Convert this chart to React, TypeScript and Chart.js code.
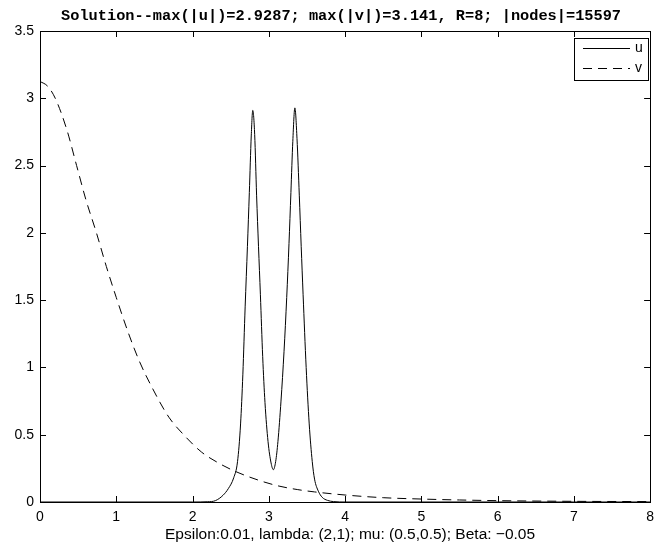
import React, { useEffect, useRef } from "react";
import { Chart, registerables } from "chart.js";

Chart.register(...registerables);

const titleText = "Solution--max(|u|)=2.9287; max(|v|)=3.141, R=8; |nodes|=15597";
const xLabelText = "Epsilon:0.01, lambda: (2,1); mu: (0.5,0.5); Beta: \u22120.05";
const seriesLabels = ["u", "v"];
const xTickValues = [0, 1, 2, 3, 4, 5, 6, 7, 8];
const yTickValues = [0, 0.5, 1, 1.5, 2, 2.5, 3, 3.5];

const uX = [0, 1, 2, 2.2, 2.3, 2.4, 2.47, 2.54, 2.59, 2.63, 2.66, 2.69, 2.72, 2.745, 2.77, 2.79, 2.815, 2.84, 2.865, 2.89, 2.92, 2.95, 2.99, 3.03, 3.06, 3.09, 3.12, 3.16, 3.2, 3.235, 3.265, 3.29, 3.315, 3.342, 3.37, 3.4, 3.425, 3.45, 3.49, 3.53, 3.57, 3.6, 3.65, 3.7, 3.77, 3.85, 4, 5, 6, 7, 8];
const uY = [0, 0, 0, 0.002, 0.01, 0.05, 0.1, 0.18, 0.3, 0.58, 0.95, 1.45, 1.9, 2.3, 2.72, 2.91, 2.73, 2.28, 1.9, 1.54, 1.08, 0.74, 0.45, 0.29, 0.24, 0.3, 0.45, 0.75, 1.12, 1.52, 1.92, 2.3, 2.68, 2.9287, 2.7, 2.28, 1.9, 1.54, 1.0, 0.58, 0.3, 0.17, 0.08, 0.035, 0.012, 0.003, 0, 0, 0, 0, 0];

const vX = [0, 0.1, 0.2, 0.35, 0.48, 0.6, 0.74, 0.87, 1.0, 1.15, 1.3, 1.47, 1.69, 1.9, 2.12, 2.34, 2.55, 2.86, 3.12, 3.38, 3.6, 4.0, 4.5, 5, 5.5, 6, 7, 8];
const vY = [3.125, 3.09, 3.0, 2.77, 2.5, 2.25, 2.0, 1.75, 1.52, 1.27, 1.05, 0.85, 0.63, 0.49, 0.37, 0.29, 0.23, 0.163, 0.12, 0.092, 0.075, 0.052, 0.032, 0.022, 0.015, 0.01, 0.005, 0.003];

const SANS = '"Liberation Sans", Arial, Helvetica, sans-serif';
const MONO = '"Liberation Mono", "Courier New", monospace';
const DASH = [9, 6];

const decorPlugin = {
  id: "decor",
  afterDraw(chart: any) {
    const { ctx, chartArea } = chart;
    const { left, right, top, bottom } = chartArea;
    const xs = chart.scales.x;
    const ys = chart.scales.y;
    ctx.save();
    ctx.strokeStyle = "#000";
    ctx.lineWidth = 1;
    ctx.setLineDash([]);
    ctx.strokeRect(Math.round(left) + 0.5, Math.round(top) + 0.5, Math.round(right - left), Math.round(bottom - top));
    const tl = 6;
    ctx.beginPath();
    xTickValues.forEach((v) => {
      const px = Math.round(xs.getPixelForValue(v)) + 0.5;
      ctx.moveTo(px, bottom);
      ctx.lineTo(px, bottom - tl);
      ctx.moveTo(px, top);
      ctx.lineTo(px, top + tl);
    });
    yTickValues.forEach((v) => {
      const py = Math.round(ys.getPixelForValue(v)) + 0.5;
      ctx.moveTo(left, py);
      ctx.lineTo(left + tl, py);
      ctx.moveTo(right, py);
      ctx.lineTo(right - tl, py);
    });
    ctx.stroke();

    const cx = (left + right) / 2;
    ctx.fillStyle = "#000";
    ctx.font = `bold 15.3px ${MONO}`;
    ctx.textAlign = "center";
    ctx.textBaseline = "alphabetic";
    ctx.fillText(titleText, cx - 4, 20);

    ctx.font = `15.5px ${SANS}`;
    ctx.fillText(xLabelText, cx + 5, 539);

    const lx = 574, ly = 38, lw = 74, lh = 42;
    ctx.fillStyle = "#fff";
    ctx.fillRect(lx, ly, lw, lh);
    ctx.strokeRect(lx + 0.5, ly + 0.5, lw, lh);
    const rows = [48.5, 68.5];
    chart.data.datasets.forEach((ds: any, i: number) => {
      ctx.beginPath();
      ctx.setLineDash(ds.borderDash || []);
      ctx.moveTo(583, rows[i]);
      ctx.lineTo(630, rows[i]);
      ctx.stroke();
      ctx.setLineDash([]);
      ctx.fillStyle = "#000";
      ctx.font = `14px ${SANS}`;
      ctx.textAlign = "left";
      ctx.textBaseline = "middle";
      ctx.fillText(ds.label, 635, rows[i]);
    });
    ctx.restore();
  },
};

export default function App() {
  const ref = useRef<HTMLCanvasElement | null>(null);
  useEffect(() => {
    if (!ref.current) return;
    const uData = uX.map((x, i) => ({ x, y: uY[i] }));
    const vData = vX.map((x, i) => ({ x, y: vY[i] }));
    const chart = new Chart(ref.current, {
      type: "line",
      data: {
        datasets: [
          {
            label: seriesLabels[0],
            data: uData,
            borderColor: "#000",
            borderWidth: 1,
            pointRadius: 0,
            cubicInterpolationMode: "monotone",
            fill: false,
          },
          {
            label: seriesLabels[1],
            data: vData,
            borderColor: "#000",
            borderWidth: 1,
            borderDash: DASH,
            pointRadius: 0,
            cubicInterpolationMode: "monotone",
            fill: false,
          },
        ],
      },
      options: {
        responsive: false,
        animation: false,
        devicePixelRatio: 1,
        layout: { padding: { top: 31, right: 5, left: 0, bottom: 0 } },
        plugins: { legend: { display: false }, title: { display: false }, tooltip: { enabled: false } },
        scales: {
          x: {
            type: "linear",
            min: 0,
            max: 8,
            grid: { display: false, drawTicks: false },
            border: { display: false },
            afterBuildTicks: (s: any) => {
              s.ticks = xTickValues.map((v) => ({ value: v }));
            },
            afterFit: (s: any) => {
              s.height = 46;
            },
            ticks: {
              color: "#000",
              font: { family: SANS, size: 14 },
              padding: 7,
              maxRotation: 0,
              autoSkip: false,
              callback: (v: any) => String(v),
            },
          },
          y: {
            type: "linear",
            min: 0,
            max: 3.5,
            grid: { display: false, drawTicks: false },
            border: { display: false },
            afterBuildTicks: (s: any) => {
              s.ticks = yTickValues.map((v) => ({ value: v }));
            },
            afterFit: (s: any) => {
              s.width = 40;
            },
            ticks: {
              color: "#000",
              font: { family: SANS, size: 14 },
              padding: 6,
              autoSkip: false,
              callback: (v: any) => String(v),
            },
          },
        },
      },
      plugins: [decorPlugin],
    } as any);
    return () => chart.destroy();
  }, []);
  return (
    <div style={{ position: "absolute", left: 0, top: 0, width: 661, height: 548, background: "#fff" }}>
      <canvas ref={ref} width={661} height={548} style={{ display: "block", width: 661, height: 548 }} />
    </div>
  );
}
